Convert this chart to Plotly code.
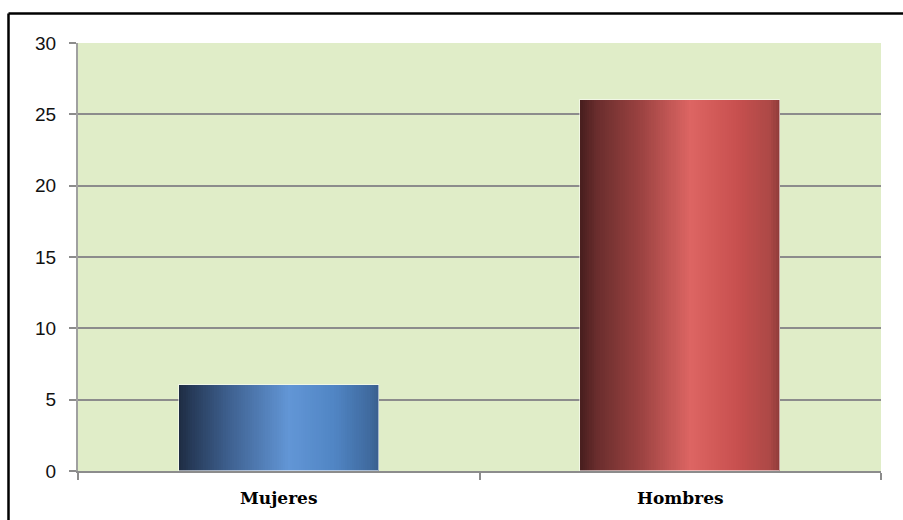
import plotly.graph_objects as go

categories = ["Mujeres", "Hombres"]
values = [6, 26]
y_ticks = [0, 5, 10, 15, 20, 25, 30]

# gradient stops (position across bar width, colour) for each bar
blue_stops = [(0.0, (30, 44, 66)), (0.06, (38, 58, 88)), (0.25, (62, 96, 143)),
              (0.55, (98, 150, 214)), (0.78, (80, 133, 196)), (0.95, (64, 107, 160)),
              (1.0, (58, 95, 142))]
red_stops = [(0.0, (72, 30, 30)), (0.08, (105, 45, 45)), (0.3, (155, 66, 65)),
             (0.55, (221, 101, 99)), (0.78, (200, 80, 79)), (0.95, (172, 72, 70)),
             (1.0, (140, 58, 57))]


def grad(stops, t):
    for (p0, c0), (p1, c1) in zip(stops[:-1], stops[1:]):
        if p0 <= t <= p1:
            f = (t - p0) / (p1 - p0) if p1 > p0 else 0
            c = [round(a + (b - a) * f) for a, b in zip(c0, c1)]
            return "rgb(%d,%d,%d)" % tuple(c)
    return "rgb(%d,%d,%d)" % stops[-1][1]


fig = go.Figure()
W = 0.497
N = 90
for i in range(N):
    t = (i + 0.5) / N
    fig.add_trace(go.Bar(
        x=categories, y=values,
        width=W - i * W / N, offset=-W / 2 + i * W / N,
        marker=dict(color=[grad(blue_stops, t), grad(red_stops, t)], line=dict(width=0)),
        hoverinfo="skip", showlegend=False,
    ))
# light outline
fig.add_trace(go.Bar(
    x=categories, y=values, width=W, offset=-W / 2,
    marker=dict(color="rgba(0,0,0,0)", line=dict(color="rgba(255,255,255,0.55)", width=1)),
    hoverinfo="skip", showlegend=False,
))

L, R, T, B = 78, 22, 43, 49
PW, PH = 903 - L - R, 520 - T - B

fig.update_layout(
    width=903, height=520,
    margin=dict(l=L, r=R, t=T, b=B),
    paper_bgcolor="white", plot_bgcolor="#e0edc8",
    barmode="overlay", bargap=0,
    xaxis=dict(
        type="category", showgrid=False, showline=True, linecolor="#8c8c8c", linewidth=2,
        ticks="outside", tickson="boundaries", ticklen=7, tickcolor="#8c8c8c", tickwidth=2,
        tickfont=dict(family="DejaVu Serif", size=17, color="black", weight="bold"),
        ticklabelstandoff=11,
    ),
    yaxis=dict(
        range=[0, 30], tickvals=y_ticks, showgrid=True, gridcolor="#8c8c8c", gridwidth=2,
        showline=True, linecolor="#a0a0a0", linewidth=2, zeroline=False,
        ticks="outside", ticklen=7, tickcolor="#8c8c8c", tickwidth=2,
        tickfont=dict(family="Liberation Sans", size=19, color="#111111"),
        ticklabelstandoff=9,
    ),
    shapes=[
        dict(type="line", xref="paper", yref="paper",
             x0=(8.5 - L) / PW, x1=(903 - L) / PW, y0=(PH + T - 13.5) / PH, y1=(PH + T - 13.5) / PH,
             line=dict(color="black", width=2.5)),
        dict(type="line", xref="paper", yref="paper",
             x0=(8.5 - L) / PW, x1=(8.5 - L) / PW, y0=(PH + T - 13.5) / PH, y1=-(B + 2) / PH,
             line=dict(color="black", width=2.5)),
    ],
)

fig.write_html("out.html", config={"displayModeBar": False},
               post_script="document.body.style.margin='0';document.body.style.overflow='hidden';")
